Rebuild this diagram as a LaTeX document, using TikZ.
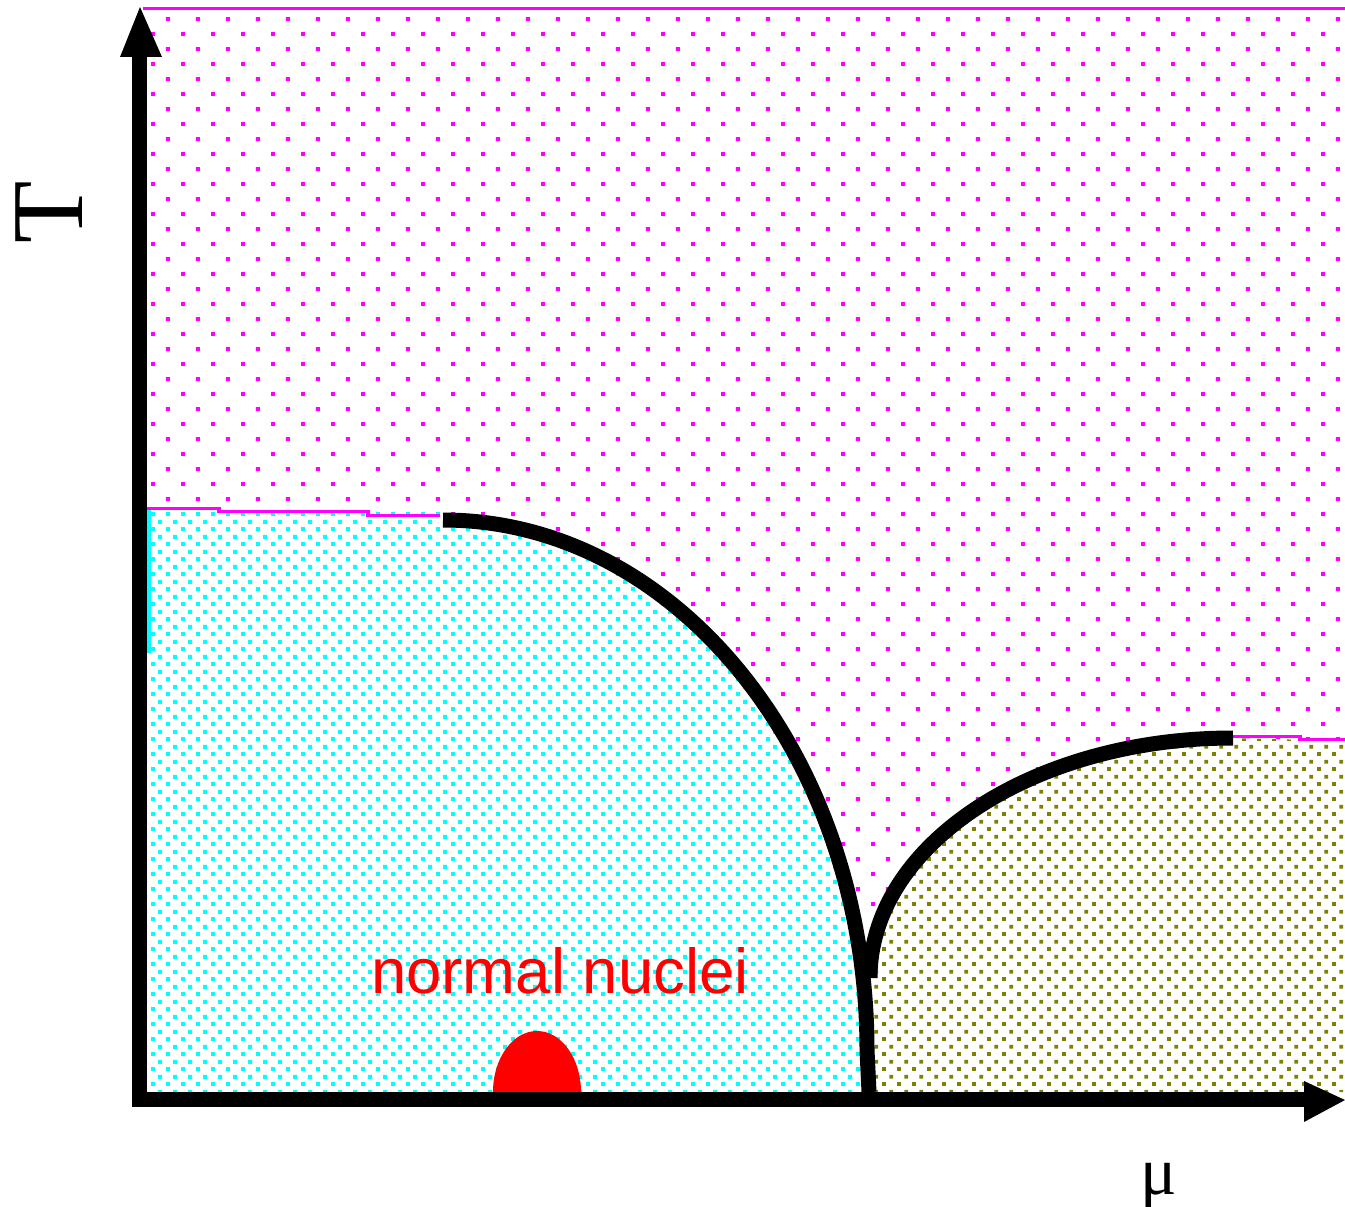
\documentclass[tikz,border=0pt]{standalone}
\usepackage{fontspec}
\setmainfont{Liberation Serif}
\newfontfamily\labelsans{Liberation Sans}
\usetikzlibrary{patterns}
\definecolor{mag}{RGB}{255,0,255}
\definecolor{cyn}{RGB}{0,255,255}
\definecolor{olv}{RGB}{128,128,0}
\definecolor{rd}{RGB}{255,0,0}
\pgfdeclarepatternformonly{magdots}{\pgfpointorigin}{\pgfpoint{30.45pt}{30.45pt}}{\pgfpoint{30.45pt}{30.45pt}}{%
  \pgfpathrectangle{\pgfpoint{0pt}{0pt}}{\pgfpoint{4pt}{4pt}}%
  \pgfpathrectangle{\pgfpoint{15.22pt}{15.22pt}}{\pgfpoint{4pt}{4pt}}%
  \pgfusepath{fill}}
\pgfdeclarepatternformonly{finedots}{\pgfpointorigin}{\pgfpoint{15.22pt}{15.22pt}}{\pgfpoint{15.22pt}{15.22pt}}{%
  \pgfpathrectangle{\pgfpoint{0pt}{0pt}}{\pgfpoint{4pt}{4pt}}%
  \pgfpathrectangle{\pgfpoint{7.61pt}{7.61pt}}{\pgfpoint{4pt}{4pt}}%
  \pgfusepath{fill}}
\begin{document}
\begin{tikzpicture}[x=1pt,y=-1pt,
  phaseline/.style={line width=15pt, black, line cap=butt},
  axisline/.style={line width=15pt, black, line cap=butt},
  tiphead/.style={fill=black},
  edgeline/.style={line width=3.5pt},
  magregion/.style={pattern=magdots, pattern color=mag},
  cynregion/.style={preaction={fill=white}, pattern=finedots, pattern color=cyn},
  olvregion/.style={preaction={fill=white}, pattern=finedots, pattern color=olv}]
\useasboundingbox (0,0) rectangle (1345,1207);
% named points
\coordinate (O) at (139.5,1099.5);
\coordinate (ytop) at (139.5,57);
\coordinate (xend) at (1304,1099.5);
\coordinate (c1s) at (443,520);
\coordinate (c1e) at (869,1092);
\coordinate (c2s) at (870,978);
% regions
\fill[magregion] (147,10) rectangle (1345,1092);
\path[cynregion] (147,512) -- (443,512) -- (c1s)
  arc[start angle=-90,end angle=0,x radius=424,y radius=530] -- (c1e) -- (147,1092) -- cycle;
\path[olvregion] (c2s) arc[start angle=180,end angle=270,x radius=363,y radius=240]
  -- (1345,741) -- (1345,1092) -- (870,1092) -- cycle;
% boundary lines
\draw[mag, edgeline] (143,8.5) -- (1345,8.5);
\draw[mag, edgeline] (147,508.5) -- (219,508.5) -- (219,511.5) -- (368,511.5) -- (368,515.5) -- (440,515.5);
\draw[cyn, line width=4pt] (149,510) -- (149,653);
\draw[mag, edgeline] (1233,736.5) -- (1300,736.5) -- (1300,739.5) -- (1345,739.5);
% phase boundaries
\draw[phaseline] (c1s) arc[start angle=-90,end angle=0,x radius=424,y radius=530] -- (c1e);
\draw[phaseline] (c2s) arc[start angle=180,end angle=270,x radius=363,y radius=240];
% nuclei
\fill[rd] (493,1092) arc[start angle=180,end angle=360,x radius=44,y radius=61] -- cycle;
% axes
\draw[axisline] (139.5,1106) -- (ytop);
\fill[tiphead] (120,57) -- (140,7) -- (162,57) -- cycle;
\draw[axisline] (132,1099.5) -- (xend);
\fill[tiphead] (1304,1081) -- (1345,1100) -- (1304,1122) -- cycle;
% labels
\node[font=\labelsans\fontsize{63.5}{70}\selectfont, text=rd, anchor=base, inner sep=0pt] (nuclei) at (560,993) {normal nuclei};
\node[font=\fontsize{102}{110}\selectfont, rotate=90, anchor=base, inner sep=0pt] (Tlab) at (82,212.5) {T};
\node[font=\fontsize{68}{75}\selectfont, anchor=base, inner sep=0pt] (mulab) at (1159,1194) {μ};
\end{tikzpicture}
\end{document}
